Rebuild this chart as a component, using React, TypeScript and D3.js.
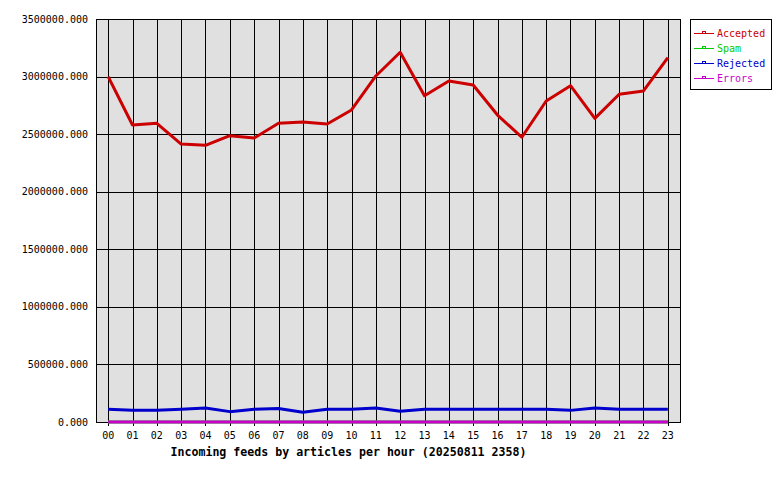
import React from "react";
import * as d3 from "d3";

const hours = ["00","01","02","03","04","05","06","07","08","09","10","11","12","13","14","15","16","17","18","19","20","21","22","23"];
const accepted = [3000000,2579000,2594000,2414000,2403000,2487000,2466000,2594000,2605000,2588000,2710000,3005000,3211000,2834000,2962000,2927000,2666000,2473000,2788000,2921000,2637000,2846000,2875000,3164000];
const spam = [0,0,0,0,0,0,0,0,0,0,0,0,0,0,0,0,0,0,0,0,0,0,0,0];
const rejected = [110000,101000,101000,110000,121000,90000,110000,118000,84000,110000,110000,121000,93000,110000,110000,110000,110000,110000,110000,101000,121000,110000,110000,110000];
const errors = [0,0,0,0,0,0,0,0,0,0,0,0,0,0,0,0,0,0,0,0,0,0,0,0];
const yTicks = [0,500000,1000000,1500000,2000000,2500000,3000000,3500000];
const seriesNames = ["Accepted","Spam","Rejected","Errors"];
const seriesColors = ["#cc0000","#00cc00","#0000cc","#cc00cc"];
const title = "Incoming feeds by articles per hour (20250811 2358)";

export default function App() {
  const W = 780, H = 480;
  const left = 96, right = 680, top = 19, bottom = 422;
  const x = d3.scaleBand<string>().domain(hours).range([left, right]);
  const y = d3.scaleLinear().domain([0, 3500000]).range([bottom, top]);
  const cx = (h: string) => (x(h) as number) + x.bandwidth() / 2;
  const line = d3.line<number>().x((_, i) => cx(hours[i])).y((v) => y(v));
  const all = [accepted, spam, rejected, errors];
  const mono = "'DejaVu Sans Mono', 'Liberation Mono', monospace";
  return (
    <svg width={W} height={H} style={{ position: "absolute", left: 0, top: 0, background: "#fff" }}>
      <rect x={left} y={top} width={right - left} height={bottom - top} fill="#e0e0e0" />
      <g shapeRendering="crispEdges" stroke="#000" strokeWidth={1}>
        {yTicks.map((t) => (
          <line key={t} x1={left} x2={right} y1={Math.round(y(t)) + 0.5} y2={Math.round(y(t)) + 0.5} />
        ))}
        {hours.map((h) => (
          <line key={h} x1={Math.round(cx(h)) + 0.5} x2={Math.round(cx(h)) + 0.5} y1={top} y2={bottom + 4} />
        ))}
        <rect x={left + 0.5} y={top + 0.5} width={right - left} height={bottom - top} fill="none" />
      </g>
      {all.map((s, i) => (
        <path key={i} d={line(s) || ""} fill="none" stroke={seriesColors[i]} strokeWidth={3} strokeLinejoin="round" />
      ))}
      <g fontFamily={mono} fontSize={10} fill="#000">
        {yTicks.map((t) => (
          <text key={t} x={88} y={y(t)} dy="0.35em" textAnchor="end">{t.toFixed(3)}</text>
        ))}
        {hours.map((h) => (
          <text key={h} x={cx(h)} y={435} dy="0.35em" textAnchor="middle">{h}</text>
        ))}
      </g>
      <text x={348.5} y={452} dy="0.35em" textAnchor="middle" fontFamily={mono} fontSize={11.6} fontWeight="bold">{title}</text>
      <g>
        <rect x={690.5} y={19.5} width={81} height={70} fill="#fff" stroke="#000" shapeRendering="crispEdges" />
        {seriesNames.map((n, i) => {
          const ly = Math.round(33 + i * 15) + 0.5;
          return (
            <g key={n}>
              <line x1={694} x2={714} y1={ly} y2={ly} stroke={seriesColors[i]} strokeWidth={1} shapeRendering="crispEdges" />
              <rect x={702.5} y={ly - 2} width={3} height={2} fill="none" stroke={seriesColors[i]} strokeWidth={1} shapeRendering="crispEdges" />
              <text x={717} y={ly} dy="0.35em" fontFamily={mono} fontSize={10} fill={seriesColors[i]}>{n}</text>
            </g>
          );
        })}
      </g>
    </svg>
  );
}
